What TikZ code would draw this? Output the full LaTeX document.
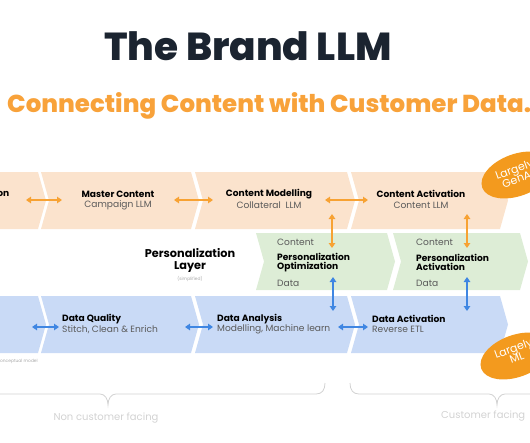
\documentclass[tikz,border=0pt]{standalone}
\usepackage{fontspec}
\setmainfont{Poppins}
\newfontfamily\heavyfont{Poppins ExtraBold}
\usetikzlibrary{arrows.meta,shapes.geometric,calc}
\definecolor{navy}{HTML}{1B2430}
\definecolor{brandorange}{HTML}{F8A23A}
\definecolor{pillorange}{HTML}{F39A1E}
\definecolor{rowor}{HTML}{FBE3CD}
\definecolor{rowgr}{HTML}{DDEDD6}
\definecolor{rowbl}{HTML}{C9DAF6}
\definecolor{arror}{HTML}{F7A233}
\definecolor{arrbl}{HTML}{3F86E2}
\definecolor{txtgrey}{HTML}{5A5A5A}
\definecolor{lightgrey}{HTML}{D2D2D2}
\newcommand\mychev[5]{\fill[#1] (#2,#4) -- (#3,#4) -- ({#3+8},{(#4+#5)/2}) -- (#3,#5) -- (#2,#5) -- ({#2+8},{(#4+#5)/2}) -- cycle;}
\tikzset{
  dbl/.style={<->, >={Triangle[length=5pt,width=6.5pt]}, line width=1.3pt},
  headlbl/.style={font=\fontsize{9.1}{10.5}\selectfont\bfseries, text=black, inner sep=0pt},
  sublbl/.style={font=\fontsize{9.1}{10.5}\selectfont, text=txtgrey, inner sep=0pt},
  pill/.style={ellipse, fill=pillorange, minimum width=74pt, minimum height=42pt, inner sep=0pt, rotate=20},
  pilltext/.style={font=\fontsize{11}{12}\selectfont, text=white, align=center, rotate=20, inner sep=0pt},
  bracetext/.style={font=\fontsize{10}{12}\selectfont, text=lightgrey, inner sep=0pt},
  tinytext/.style={font=\fontsize{4.4}{5}\selectfont, text=lightgrey!80!black, inner sep=0pt}
}
\begin{document}
\begin{tikzpicture}[x=1pt,y=-1pt]
\useasboundingbox (0,0) rectangle (530,442);
\clip (0,0) rectangle (530,442);
% titles
\node[font=\fontsize{39}{42}\heavyfont, text=navy, inner sep=0pt, anchor=base] (title) at (248,60) {The Brand LLM};
\node[font=\fontsize{24.5}{27}\heavyfont, text=brandorange, inner sep=0pt, anchor=base west] (subtitle) at (7,112) {Connecting Content with Customer Data.};
% orange row
\mychev{rowor}{-30}{38}{172}{229}
\mychev{rowor}{41}{191}{172}{229}
\mychev{rowor}{195}{347}{172}{229}
\mychev{rowor}{351}{500}{172}{229}
% green row
\mychev{rowgr}{256}{387}{233}{290}
\mychev{rowgr}{393}{520}{233}{290}
% blue row
\mychev{rowbl}{-30}{38}{296}{353}
\mychev{rowbl}{41}{191}{296}{353}
\mychev{rowbl}{195}{347}{296}{353}
\mychev{rowbl}{351}{500}{296}{353}
% orange labels
\node[headlbl, anchor=east] (c0) at (9.5,194) {on};
\node[headlbl] (c1) at (118,194) {Master Content};
\node[sublbl] (c1s) at (118,205) {Campaign LLM};
\node[headlbl] (c2) at (269,194) {Content Modelling};
\node[sublbl] (c2s) at (269,205) {Collateral\ \ LLM};
\node[headlbl] (c3) at (421,194) {Content Activation};
\node[sublbl] (c3s) at (421,205) {Content LLM};
% green labels
\node[font=\fontsize{11.3}{13}\selectfont\bfseries, align=center, inner sep=0pt] (pl) at (190,260) {Personalization\\[-1pt]Layer};
\node[tinytext] (simp) at (190,279) {(simplified)};
\node[sublbl, anchor=west] (g1a) at (277,242) {Content};
\node[headlbl, anchor=west, align=left] (g1b) at (277,262.5) {Personalization\\[-1pt]Optimization};
\node[sublbl, anchor=west] (g1c) at (277,283) {Data};
\node[sublbl, anchor=west] (g2a) at (416,242) {Content};
\node[headlbl, anchor=west, align=left] (g2b) at (416,262.5) {Personalization\\[-1pt]Activation};
\node[sublbl, anchor=west] (g2c) at (416,283) {Data};
% blue labels
\node[headlbl, anchor=west] (d1) at (62,319) {Data Quality};
\node[sublbl, anchor=west] (d1s) at (62,329.5) {Stitch, Clean \& Enrich};
\node[headlbl, anchor=west] (d2) at (217,319) {Data Analysis};
\node[sublbl, anchor=west] (d2s) at (217,329.5) {Modelling, Machine learn};
\node[headlbl, anchor=west] (d3) at (372,319) {Data Activation};
\node[sublbl, anchor=west] (d3s) at (372,329.5) {Reverse ETL};
\node[tinytext, anchor=east] (concept) at (38,361) {Conceptual model};
% arrow end points
\coordinate (oa1) at (26,200); \coordinate (ob1) at (62,200);
\coordinate (oa2) at (174,200); \coordinate (ob2) at (213,200);
\coordinate (oa3) at (325,200); \coordinate (ob3) at (368,200);
\coordinate (ov1a) at (332,214); \coordinate (ov1b) at (332,248);
\coordinate (ov2a) at (467,214); \coordinate (ov2b) at (467,248);
\coordinate (bv1a) at (333,277); \coordinate (bv1b) at (333,311);
\coordinate (bv2a) at (467,277); \coordinate (bv2b) at (467,311);
\coordinate (ba1) at (32,327); \coordinate (bb1) at (59,327);
\coordinate (ba2) at (185,327); \coordinate (bb2) at (213,327);
\coordinate (ba3) at (338,327); \coordinate (bb3) at (368,327);
\draw[dbl, arror] (oa1) -- (ob1);
\draw[dbl, arror] (oa2) -- (ob2);
\draw[dbl, arror] (oa3) -- (ob3);
\draw[dbl, arror] (ov1a) -- (ov1b);
\draw[dbl, arror] (ov2a) -- (ov2b);
\draw[dbl, arrbl] (bv1a) -- (bv1b);
\draw[dbl, arrbl] (bv2a) -- (bv2b);
\draw[dbl, arrbl] (ba1) -- (bb1);
\draw[dbl, arrbl] (ba2) -- (bb2);
\draw[dbl, arrbl] (ba3) -- (bb3);
% pills
\node[pill] (genai) at (517,175) {};
\node[pilltext] (genait) at (516,174) {Largely\\[-2pt]GenAI};
\node[pill] (ml) at (516,356) {};
\node[pilltext] (mlt) at (515,353) {Largely\\[-2pt]ML};
% braces
\draw[lightgrey, line width=0.8pt] (0,394) -- (100,394) .. controls (105,394) and (108,399) .. (108,405) .. controls (108,399) and (111,394) .. (116,394) -- (316,394) .. controls (322,394) and (325,390) .. (325,383);
\draw[lightgrey, line width=0.8pt] (350,383) .. controls (350,390) and (353,394) .. (359,394) -- (489,394) .. controls (494,394) and (497,399) .. (497,405) .. controls (497,399) and (500,394) .. (505,394) -- (540,394);
\node[bracetext] (ncf) at (106,418) {Non customer facing};
\node[bracetext, anchor=west] (cf) at (441,416) {Customer facing};
\end{tikzpicture}
\end{document}
